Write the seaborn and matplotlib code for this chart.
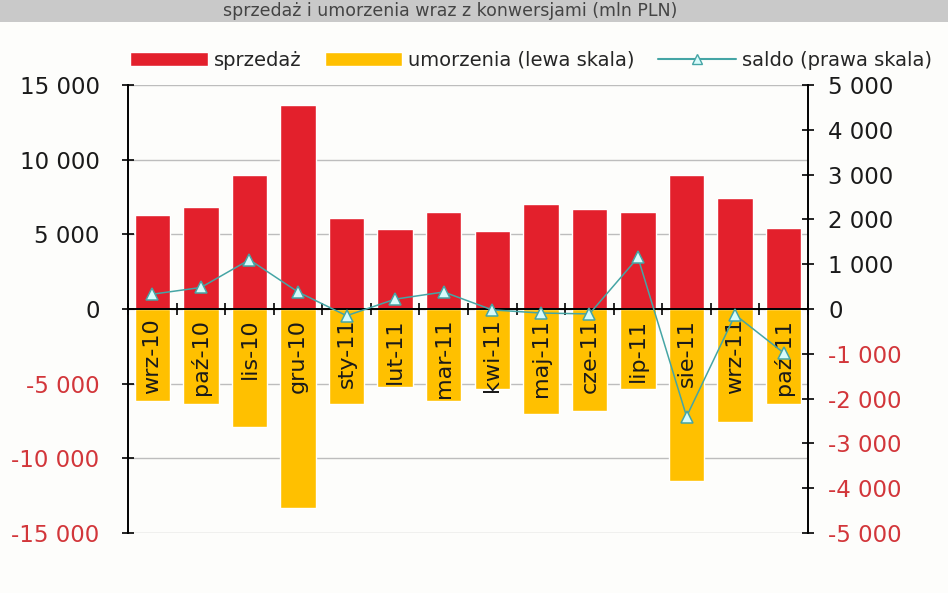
import numpy as np
import pandas as pd
import matplotlib
matplotlib.use("Agg")
import matplotlib.pyplot as plt
import seaborn as sns
from matplotlib.patches import Patch, Rectangle
from matplotlib.lines import Line2D
from matplotlib.ticker import FuncFormatter

# Data (mln PLN)
months = ["wrz-10", "paź-10", "lis-10", "gru-10", "sty-11", "lut-11", "mar-11",
          "kwi-11", "maj-11", "cze-11", "lip-11", "sie-11", "wrz-11", "paź-11"]
sprzedaz = [6300, 6850, 9000, 13650, 6100, 5350, 6500, 5200, 7000, 6700, 6500, 9000, 7400, 5400]
umorzenia = [-6150, -6350, -7900, -13300, -6350, -5250, -6150, -5350, -7050, -6850, -5350, -11500, -7550, -6350]
saldo = [330, 480, 1100, 380, -150, 220, 380, -20, -90, -110, 1150, -2400, -130, -980]

title = "sprzedaż i umorzenia wraz z konwersjami (mln PLN)"

sns.set_theme(style="white")
plt.rcParams["font.family"] = ["DejaVu Sans"]

red = "#E3202C"
gold = "#FFC000"
teal = "#45A5A5"
neg_red = "#D2363A"
tick_fs = 16.5

df = pd.DataFrame({"miesiac": months, "sprzedaz": sprzedaz, "umorzenia": umorzenia})

fig = plt.figure(figsize=(9.48, 5.93), dpi=100)
fig.patch.set_facecolor("#FDFDFB")

# title band at the top
fig.patches.append(Rectangle((0, 1 - 22 / 593), 1, 22 / 593, transform=fig.transFigure,
                             facecolor="#C9C9C9", edgecolor="none", zorder=0))
fig.text(0.475, 1 - 11 / 593, title, ha="center", va="center", fontsize=12.5, color="#444444")

ax = fig.add_axes([128 / 948, 1 - 533 / 593, 680 / 948, 448 / 593])
ax.set_facecolor("none")

sns.barplot(data=df, x="miesiac", y="sprzedaz", color=red, width=0.73, ax=ax,
            saturation=1, zorder=2)
sns.barplot(data=df, x="miesiac", y="umorzenia", color=gold, width=0.73, ax=ax,
            saturation=1, zorder=2)

ax.set_ylim(-15000, 15000)
ax.set_xlim(-0.5, len(months) - 0.5)
ax.set_yticks(np.arange(-15000, 15001, 5000))
ax.yaxis.grid(True, color="#BDBDBD", linewidth=1)
ax.set_axisbelow(True)
ax.set_xlabel("")
ax.set_ylabel("")


def fmt(v, pos=None):
    v = int(round(v))
    s = f"{abs(v):,}".replace(",", " ")
    return ("-" if v < 0 else "") + s


ax.yaxis.set_major_formatter(FuncFormatter(fmt))
ax.tick_params(axis="y", direction="inout", length=9, width=1.2, color="black",
               labelsize=tick_fs, pad=16, left=True)
for lbl, v in zip(ax.get_yticklabels(), ax.get_yticks()):
    lbl.set_color(neg_red if v < 0 else "#1A1A1A")

ax.spines["top"].set_visible(False)
ax.spines["right"].set_visible(False)
ax.spines["left"].set_color("black")
ax.spines["left"].set_linewidth(1.4)
ax.spines["bottom"].set_position(("data", 0))
ax.spines["bottom"].set_color("black")
ax.spines["bottom"].set_linewidth(1.4)
ax.spines["bottom"].set_zorder(4)

ax.set_xticks(np.arange(len(months)))
ax.set_xticklabels(months, rotation=90, fontsize=tick_fs - 0.5, color="#1A1A1A")
ax.set_xticks(np.arange(len(months) + 1) - 0.5, minor=True)
ax.tick_params(axis="x", which="major", length=0, pad=7)
ax.tick_params(axis="x", which="minor", direction="inout", length=9, width=1.2,
               color="black", bottom=True)
# month labels sit on top of the yellow bars
ax.xaxis.set_zorder(4)

# right axis: saldo
ax2 = ax.twinx()
sns.lineplot(x=np.arange(len(months)), y=saldo, ax=ax2, color=teal, linewidth=1.1,
             marker="^", markersize=9, markerfacecolor="#D8FBFB",
             markeredgecolor=teal, markeredgewidth=1.1, zorder=5)
ax2.set_ylim(-5000, 5000)
ax2.set_yticks(np.arange(-5000, 5001, 1000))
ax2.yaxis.set_major_formatter(FuncFormatter(fmt))
ax2.tick_params(axis="y", direction="inout", length=9, width=1.2, color="black",
                labelsize=tick_fs, pad=10, right=True)
for lbl, v in zip(ax2.get_yticklabels(), ax2.get_yticks()):
    lbl.set_color(neg_red if v < 0 else "#1A1A1A")
for s in ["top", "left", "bottom"]:
    ax2.spines[s].set_visible(False)
ax2.spines["right"].set_color("black")
ax2.spines["right"].set_linewidth(1.4)
ax2.set_ylabel("")

handles = [Patch(facecolor=red, label="sprzedaż"),
           Patch(facecolor=gold, label="umorzenia (lewa skala)"),
           Line2D([0], [0], color=teal, marker="^", markerfacecolor="#D8FBFB",
                  markeredgecolor=teal, markersize=7, label="saldo (prawa skala)")]
fig.legend(handles=handles, loc="center", bbox_to_anchor=(0.56, 1 - 60 / 593), ncol=3,
           frameon=False, fontsize=14, handlelength=4.0, handleheight=0.75,
           columnspacing=1.2, handletextpad=0.3)

fig.savefig("out.png", dpi=100, facecolor=fig.get_facecolor())
